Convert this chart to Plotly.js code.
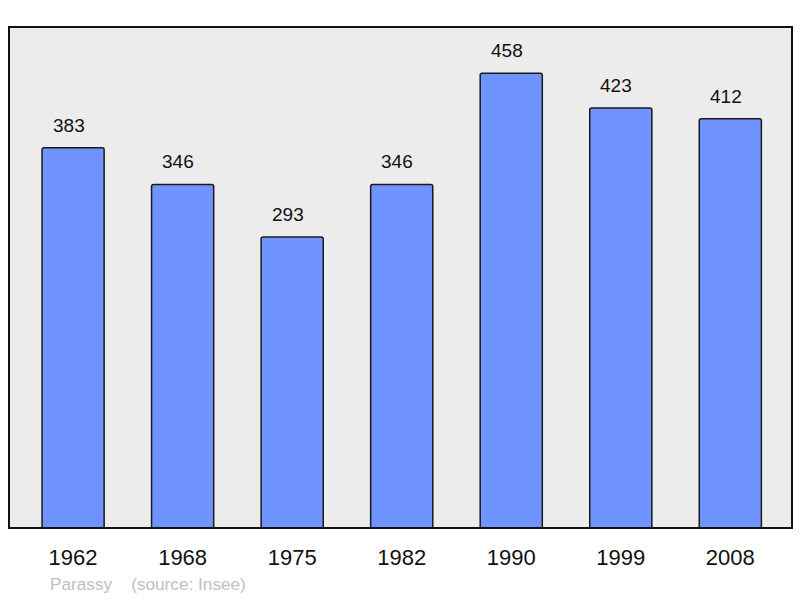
<!DOCTYPE html>
<html>
<head>
<meta charset="utf-8">
<script src="https://cdn.plot.ly/plotly-3.0.1.min.js"></script>
<style>html,body{margin:0;padding:0;background:#fff;}#chart{width:800px;height:598px;}</style>
</head>
<body>
<div id="chart"></div>
<script>
const years = ["1962", "1968", "1975", "1982", "1990", "1999", "2008"];
const population = [383, 346, 293, 346, 458, 423, 412];
const sourceText = "Parassy&nbsp;&nbsp;&nbsp;&nbsp;(source: Insee)";

const trace = {
  type: "bar",
  x: years,
  y: population,
  width: 0.567,
  marker: {color: "#7094ff", line: {color: "#1a1a1a", width: 1.5}, cornerradius: 2},
  hoverinfo: "none"
};

const annotations = years.map((yr, i) => ({
  x: i, y: population[i], xref: "x", yref: "y",
  text: String(population[i]), showarrow: false,
  yanchor: "bottom", yshift: 10, xshift: -4.5,
  font: {family: "Liberation Sans, Arial, sans-serif", size: 19, color: "#111"}
}));
const L = 9, R = 8, T = 27, B = 70, W = 800, H = 598;
const pw = W - L - R, ph = H - T - B;
annotations.push({
  x: (48 - L) / pw, y: (H - B - 584) / ph, xref: "paper", yref: "paper", text: sourceText,
  showarrow: false, xanchor: "left", yanchor: "middle",
  font: {family: "Liberation Sans, Arial, sans-serif", size: 17.2, color: "#c0c0c0"}
});

const layout = {
  width: W, height: H,
  margin: {l: L, r: R, t: T, b: B, pad: 0},
  paper_bgcolor: "#ffffff",
  plot_bgcolor: "#ececec",
  showlegend: false,
  xaxis: {
    type: "category", range: [-0.585, 6.563], showgrid: false, zeroline: false,
    showline: false, ticks: "", ticklabelstandoff: 14,
    tickfont: {family: "Liberation Sans, Arial, sans-serif", size: 22, color: "#111"}
  },
  yaxis: {range: [0, 504.5], showgrid: false, zeroline: false, showticklabels: false, ticks: "", showline: false},
  shapes: [{type: "rect", xref: "paper", yref: "paper", x0: 0, x1: 1, y0: 0, y1: 1,
            line: {color: "#111", width: 2}}],
  annotations: annotations
};

Plotly.newPlot("chart", [trace], layout, {staticPlot: true, displayModeBar: false});
</script>
</body>
</html>
